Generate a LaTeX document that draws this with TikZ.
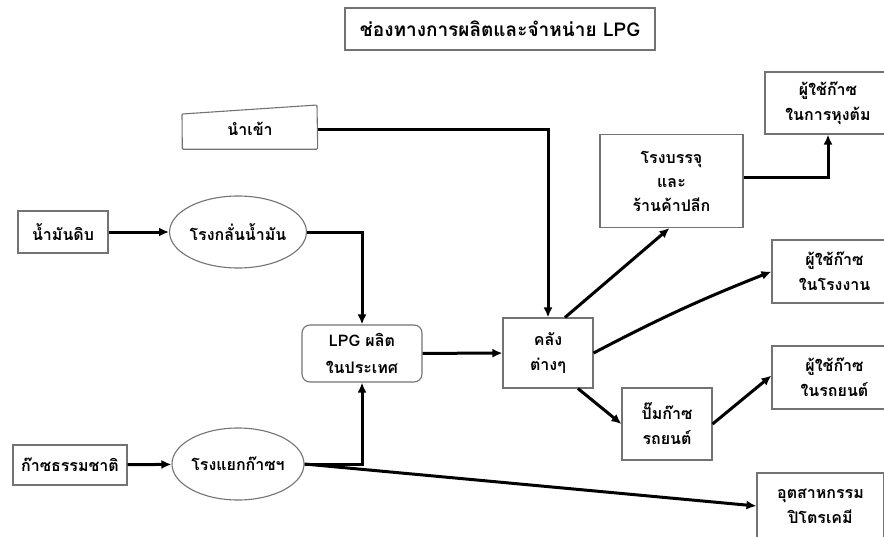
\documentclass[tikz,border=0pt]{standalone}
\usepackage{fontspec}
\newfontfamily\thaifont[Script=Thai]{Loma}
\usetikzlibrary{arrows.meta,shapes.geometric}
\begin{document}
\begin{tikzpicture}[x=1pt,y=-1pt,
  font=\thaifont\bfseries\fontsize{16}{19}\selectfont,
  box/.style={draw=black!55,line width=1.1pt,align=center,inner sep=0pt},
  oval/.style={draw=black!55,line width=1.1pt,ellipse,align=center,inner sep=0pt,minimum width=128pt,minimum height=72pt},
  conn/.style={line width=3pt,-{Latex[length=10pt,width=9pt]}}]
\useasboundingbox (0,0) rectangle (884,536);
\clip (0,0) rectangle (884,536);
\fill[white] (0,0) rectangle (884,536);
% title
\node[box,minimum width=310pt,minimum height=42pt,font=\thaifont\bfseries\fontsize{19}{22}\selectfont] (title) at (500,29) {ช่องทางการผลิตและจำหน่าย LPG};
% import (manual input shape)
\node[minimum width=135pt,minimum height=40pt,inner sep=0pt] (imp) at (250,129) {นำเข้า};
\draw[draw=black!55,line width=1.1pt,rounded corners=1pt] (imp.south west) -- (182,114) -- (317,105) -- (imp.south east) -- cycle;
% sources
\node[box,minimum width=90pt,minimum height=42pt] (crude) at (63,232) {น้ำมันดิบ};
\node[oval] (refine) at (238,232) {โรงกลั่นน้ำมัน};
\node[box,minimum width=114pt,minimum height=40pt] (ngas) at (70,465) {ก๊าซธรรมชาติ};
\node[oval] (gsp) at (238,464) {โรงแยกก๊าซฯ};
\node[box,rounded corners=8pt,minimum width=120pt,minimum height=57pt] (lpg) at (362,353.5) {LPG ผลิต\\[8pt]ในประเทศ};
\node[box,minimum width=90pt,minimum height=70pt] (store) at (548,353) {คลัง\\[6pt]ต่างๆ};
\node[box,minimum width=143pt,minimum height=93pt] (pack) at (671.5,181) {โรงบรรจุ\\[5pt]และ\\[5pt]ร้านค้าปลีก};
\node[box,minimum width=126pt,minimum height=62pt] (cook) at (828,103) {ผู้ใช้ก๊าซ\\[6pt]ในการหุงต้ม};
\node[box,minimum width=125pt,minimum height=63pt] (fact) at (834.5,271.5) {ผู้ใช้ก๊าซ\\[6pt]ในโรงงาน};
\node[box,minimum width=125pt,minimum height=63pt] (car) at (834.5,377.5) {ผู้ใช้ก๊าซ\\[6pt]ในรถยนต์};
\node[box,minimum width=90pt,minimum height=72pt] (pump) at (667,424) {ปั๊มก๊าซ\\[6pt]รถยนต์};
\node[box,minimum width=127pt,minimum height=66pt] (petro) at (820.5,506) {อุตสาหกรรม\\[6pt]ปิโตรเคมี};
% connectors
\draw[conn] (crude) -- (refine);
\draw[conn] (ngas) -- (gsp);
\draw[conn] (refine.east) -| (lpg.north);
\draw[conn] (gsp.east) -| (lpg.south);
\draw[conn] (imp.east) -| (store.north);
\draw[conn] (lpg) -- (store);
\draw[conn] ([xshift=17pt]store.north) -- ([xshift=-2pt]pack.south);
\draw[conn] (store.east) to[bend left=3] (fact.west);
\draw[conn] ([xshift=30pt]store.south) -- (pump.west);
\draw[conn] (pump.east) -- ([yshift=2pt]car.west);
\draw[conn] ([yshift=4pt]pack.east) -| (cook.south);
\draw[conn] (gsp.east) -- (petro.west);
\end{tikzpicture}
\end{document}
